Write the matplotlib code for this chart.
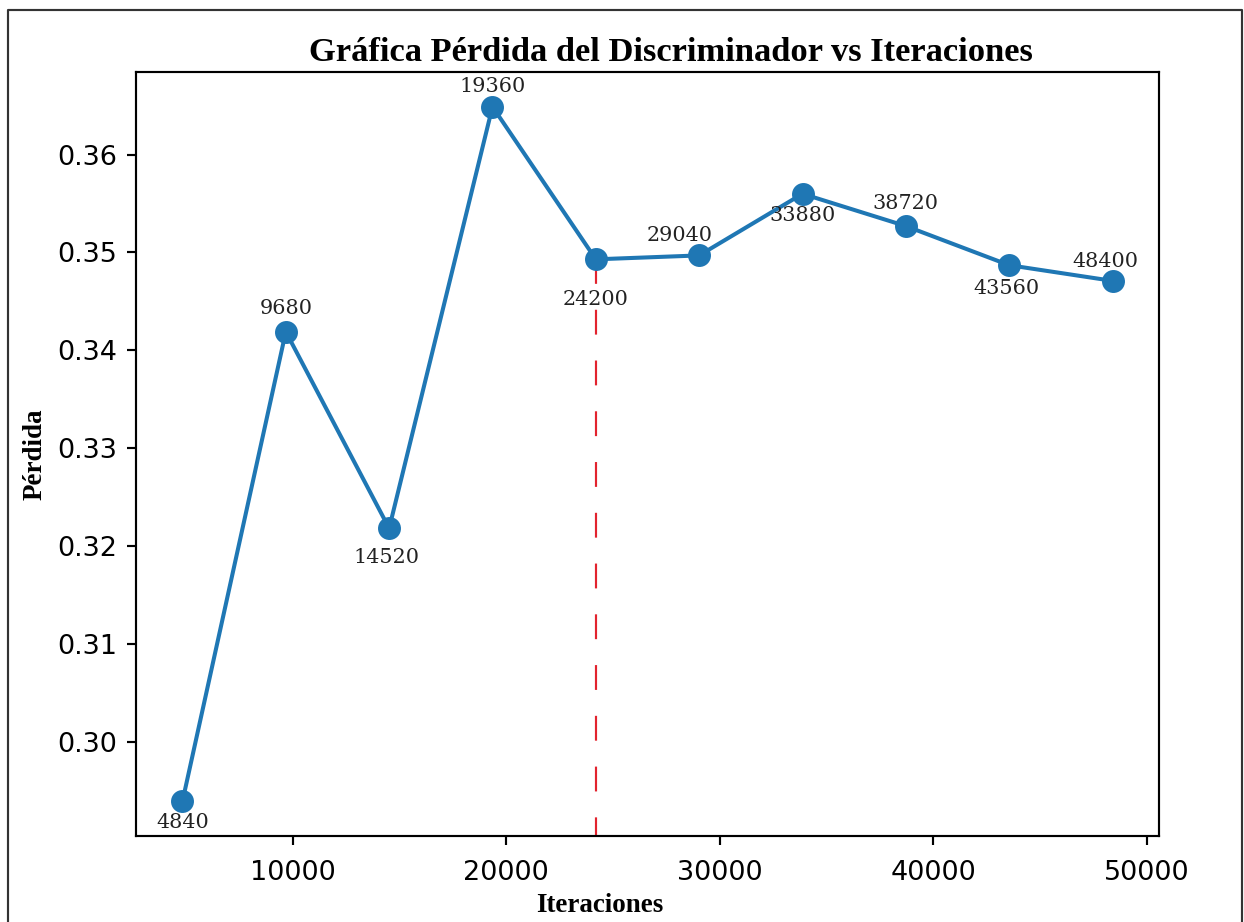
# -*- coding: utf-8 -*-
"""
Pérdida del discriminador frente a las iteraciones de entrenamiento
"""

import matplotlib
matplotlib.use("Agg")
from matplotlib import pyplot as plt
from matplotlib.lines import Line2D

#_____________________________________________________
#DATOS

iteraciones = [4840, 9680, 14520, 19360, 24200, 29040, 33880, 38720, 43560, 48400]
perdida = [0.2939, 0.3419, 0.3218, 0.3649, 0.3493, 0.3497, 0.3560, 0.3527, 0.3487, 0.3471]
corte = 24200   # iteracion marcada con la linea roja

# desplazamiento de cada etiqueta (puntos), como en la grafica original
desp_x = [0, 0, -1.1, 0, 0, -7.4, 0, 0, -1.1, -2.8]
desp_y = [-7.8, 8.5, -10.7, 7.4, -14.8, 7.4, -8.1, 8.5, -8.7, 7.2]

#_____________________________________________________
#FIGURA

dpi = 194.4
fig = plt.figure(figsize=(1244 / dpi, 922 / dpi), dpi=dpi)
ax = fig.add_axes([0.1093, 0.0933, 0.8224, 0.8286])

ax.plot(iteraciones, perdida, marker='o', markersize=7.5, linewidth=1.5, color='#1f77b4')

# etiquetas de cada punto
for x, y, dx, dy in zip(iteraciones, perdida, desp_x, desp_y):
    ax.annotate(str(x), (x, y), xytext=(dx, dy), textcoords='offset points',
                ha='center', va='center', fontsize=7.7, family='DejaVu Serif',
                color='#222222')

# linea vertical roja desde el punto hasta el eje x
lims = ax.get_ylim()
ax.set_ylim(lims)
yc = perdida[iteraciones.index(corte)]
ax.plot([corte, corte], [yc, lims[0]], color='#e2232e', linewidth=0.8,
        dashes=(11.5, 12), scalex=False, scaley=False, zorder=1)

ax.set_yticks([0.30, 0.31, 0.32, 0.33, 0.34, 0.35, 0.36])
ax.set_xticks([10000, 20000, 30000, 40000, 50000])
ax.tick_params(axis='x', pad=5.5)

ax.set_title("Gráfica Pérdida del Discriminador vs Iteraciones", x=0.523, pad=4,
             fontsize=12.8, fontweight='bold', family='Liberation Serif')
ax.set_xlabel("Iteraciones", fontsize=10, fontweight='bold', family='Liberation Serif')
ax.set_ylabel("Pérdida", fontsize=10, fontweight='bold', family='Liberation Serif')
ax.xaxis.set_label_coords(0.4536, -0.074)
ax.yaxis.set_label_coords(-0.086, 0.5)

# marco exterior de la imagen
borde = Line2D([8 / 1244, 8 / 1244, 1242 / 1244, 1242 / 1244],
               [0, 1 - 10 / 922, 1 - 10 / 922, 0],
               transform=fig.transFigure, color='#333333', linewidth=0.8)
fig.add_artist(borde)

fig.savefig("out.png", dpi=dpi)
